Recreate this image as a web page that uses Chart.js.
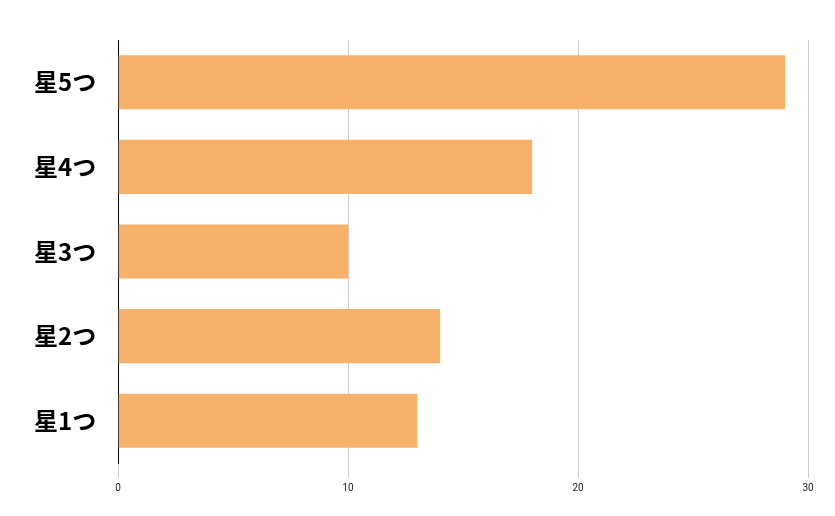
<!DOCTYPE html>
<html>
<head>
<meta charset="utf-8">
<script src="https://cdn.jsdelivr.net/npm/chart.js@4"></script>
<style>
  html, body { margin: 0; padding: 0; background: #fff; }
  #wrap { width: 835px; height: 516px; }
</style>
</head>
<body>
<div id="wrap"><canvas id="starChart"></canvas></div>
<script>
const categories = ["星5つ", "星4つ", "星3つ", "星2つ", "星1つ"];
const counts = [29, 18, 10, 14, 13];
const xTicks = [0, 10, 20, 30];

new Chart(document.getElementById("starChart"), {
    type: "bar",
    data: {
        labels: categories,
        datasets: [{
            data: counts,
            backgroundColor: "#f6b26b",
            barPercentage: 0.64,
            categoryPercentage: 1
        }]
    },
    options: {
        indexAxis: "y",
        responsive: true,
        maintainAspectRatio: false,
        animation: false,
        layout: { padding: { top: 40, right: 27, bottom: 18, left: 20 } },
        plugins: { legend: { display: false }, tooltip: { enabled: false } },
        scales: {
            x: {
                min: 0,
                max: 30,
                afterBuildTicks: axis => { axis.ticks = xTicks.map(v => ({ value: v })); },
                grid: { color: "#cccccc", tickLength: 15, drawTicks: true },
                border: { display: false },
                ticks: { color: "#222", font: { family: "Roboto", size: 10 }, padding: 4 }
            },
            y: {
                grid: { display: false },
                border: { display: true, color: "#000", width: 1 },
                ticks: { color: "#000", font: { family: "Noto Sans CJK JP", size: 24, weight: "bold" }, padding: 14 }
            }
        }
    }
});
</script>
</body>
</html>
